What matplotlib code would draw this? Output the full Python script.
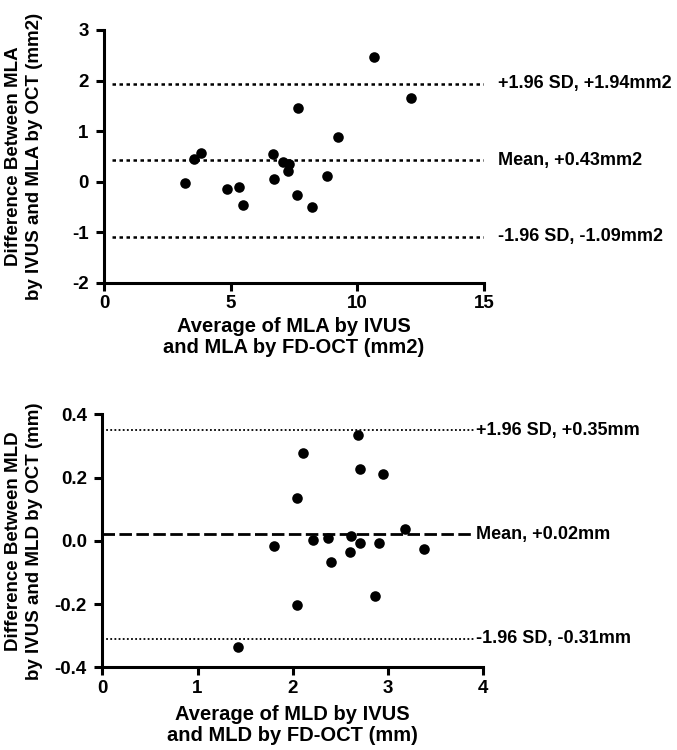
import matplotlib
matplotlib.use("Agg")
import matplotlib.pyplot as plt

plt.rcParams['font.family'] = ['Liberation Sans', 'DejaVu Sans']
plt.rcParams['font.weight'] = 'bold'
plt.rcParams['axes.unicode_minus'] = False

# MLA panel
mla_avg = [3.19, 3.56, 3.83, 4.85, 5.31, 5.49, 6.67, 6.72, 7.05, 7.31, 7.28, 7.67,
           7.60, 8.23, 8.79, 9.22, 10.65, 12.11]
mla_diff = [-0.02, 0.45, 0.57, -0.15, -0.10, -0.45, 0.55, 0.06, 0.40, 0.35, 0.22, 1.46,
            -0.27, -0.50, 0.11, 0.89, 2.47, 1.65]
mla_lines = [1.94, 0.43, -1.09]
mla_labels = ["+1.96 SD, +1.94mm2", "Mean, +0.43mm2", "-1.96 SD, -1.09mm2"]

# MLD panel
mld_avg = [1.42, 1.80, 2.04, 2.11, 2.04, 2.21, 2.37, 2.40, 2.68, 2.71, 2.95, 2.61,
           2.70, 2.60, 2.90, 3.18, 3.38, 2.86]
mld_diff = [-0.335, -0.016, 0.136, 0.277, -0.204, 0.002, 0.009, -0.067, 0.334, 0.226,
            0.212, 0.016, -0.006, -0.037, -0.006, 0.037, -0.027, -0.174]
mld_lines = [0.35, 0.02, -0.31]
mld_labels = ["+1.96 SD, +0.35mm", "Mean, +0.02mm", "-1.96 SD, -0.31mm"]


def style_axes(ax):
    for s in ['top', 'right']:
        ax.spines[s].set_visible(False)
    for s in ['left', 'bottom']:
        ax.spines[s].set_linewidth(2.2)
    ax.tick_params(direction='out', length=6, width=2.2, labelsize=13.5)
    ax.tick_params(axis='y', pad=5)
    ax.tick_params(axis='x', pad=3)
    for lab in ax.get_xticklabels() + ax.get_yticklabels():
        lab.set_fontweight('bold')


fig = plt.figure(figsize=(6.77, 7.5), dpi=100)

ax1 = fig.add_axes([0.1536, 0.6227, 0.5613, 0.3373])
ax1.scatter(mla_avg, mla_diff, s=58, color='black', zorder=3, linewidths=0)
for yv, lab in zip(mla_lines, mla_labels):
    ax1.plot([0.3, 15], [yv, yv], color='black', lw=1.8, linestyle=(0, (1.4, 1.4)))
    ax1.text(15.57, yv, lab, va='center', ha='left', fontsize=13, fontweight='bold',
             clip_on=False)
ax1.set_xlim(0, 15)
ax1.set_ylim(-2, 3)
ax1.set_xticks([0, 5, 10, 15])
ax1.set_yticks([-2, -1, 0, 1, 2, 3])
ax1.set_xlabel("Average of MLA by IVUS\nand MLA by FD-OCT (mm2)", fontsize=14.5,
               fontweight='bold', linespacing=1.15)
ax1.set_ylabel("Difference Between MLA\nby IVUS and MLA by OCT (mm2)", fontsize=13.5,
               fontweight='bold', linespacing=1.3)
ax1.xaxis.set_label_coords(0.5, -0.135)
ax1.yaxis.set_label_coords(-0.16, 0.5)
style_axes(ax1)

ax2 = fig.add_axes([0.151, 0.1103, 0.563, 0.3373])
ax2.scatter(mld_avg, mld_diff, s=58, color='black', zorder=3, linewidths=0)
styles = [(0, (1, 1.3)), (0, (4.5, 1.6)), (0, (1, 1.3))]
widths = [1.3, 2.0, 1.3]
for yv, lab, ls, lw in zip(mld_lines, mld_labels, styles, widths):
    ax2.plot([0, 3.9], [yv, yv], color='black', lw=lw, linestyle=ls)
    ax2.text(3.92, yv, lab, va='center', ha='left', fontsize=13, fontweight='bold',
             clip_on=False)
ax2.set_xlim(0, 4)
ax2.set_ylim(-0.4, 0.4)
ax2.set_xticks([0, 1, 2, 3, 4])
ax2.set_yticks([-0.4, -0.2, 0.0, 0.2, 0.4])
ax2.set_yticklabels(["-0.4", "-0.2", "0.0", "0.2", "0.4"])
ax2.set_xlabel("Average of MLD by IVUS\nand MLD by FD-OCT (mm)", fontsize=14.5,
               fontweight='bold', linespacing=1.15)
ax2.set_ylabel("Difference Between MLD\nby IVUS and MLD by OCT (mm)", fontsize=13.5,
               fontweight='bold', linespacing=1.3)
ax2.xaxis.set_label_coords(0.5, -0.15)
ax2.yaxis.set_label_coords(-0.155, 0.5)
style_axes(ax2)

fig.savefig("out.png", dpi=100, facecolor='white')
